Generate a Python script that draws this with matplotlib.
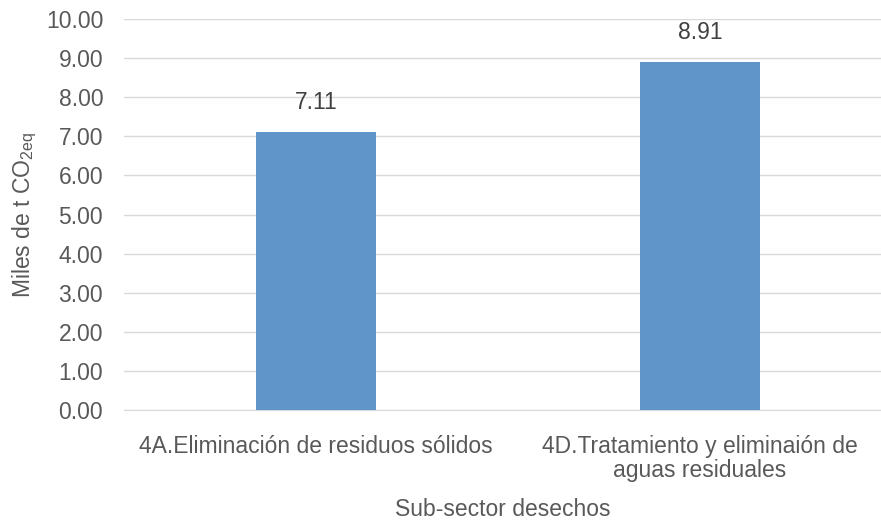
import numpy as np
import matplotlib.pyplot as plt

categories = ['4A.Eliminación de residuos sólidos',
              '4D.Tratamiento y eliminaión de\naguas residuales']
values = [7.11, 8.91]
yticks = np.arange(0, 10.01, 1.0)

plt.rcParams['font.family'] = 'Liberation Sans'
plt.rcParams['mathtext.fontset'] = 'custom'
plt.rcParams['mathtext.rm'] = 'Liberation Sans'
plt.rcParams['mathtext.it'] = 'Liberation Sans'
fs = 16.5

text_color = '#595959'
grid_color = '#d9d9d9'

fig = plt.figure(figsize=(8.81, 5.21), dpi=100)
ax = fig.add_axes([124 / 881, 111 / 521, 757 / 881, 391 / 521])

x = np.arange(len(categories))
bars = ax.bar(x, values, width=0.3125, color='#5f95c8', zorder=3)

# value labels above bars
for xi, v in zip(x, values):
    ax.annotate(f'{v:.2f}', (xi, v), xytext=(0, 13), textcoords='offset points',
                ha='center', va='bottom', color='#404040', fontsize=fs)

ax.set_xlim(-0.5, 1.471)
ax.set_ylim(0, 10)
ax.set_yticks(yticks)
ax.set_yticklabels([f'{t:.2f}' for t in yticks])
ax.set_xticks(x)
ax.set_xticklabels(categories, linespacing=1.08)

ax.grid(axis='y', color=grid_color, linewidth=1, zorder=0)
for side in ['top', 'right', 'left']:
    ax.spines[side].set_visible(False)
ax.spines['bottom'].set_color(grid_color)
ax.tick_params(axis='both', length=0, colors=text_color, labelsize=fs)
ax.tick_params(axis='x', pad=18)
ax.tick_params(axis='y', pad=15)

ax.set_ylabel('Miles de t CO$_{2eq}$', color=text_color, fontsize=fs, labelpad=5)
ax.set_xlabel('Sub-sector desechos', color=text_color, fontsize=fs, labelpad=11)

plt.savefig('out.png', dpi=100)
